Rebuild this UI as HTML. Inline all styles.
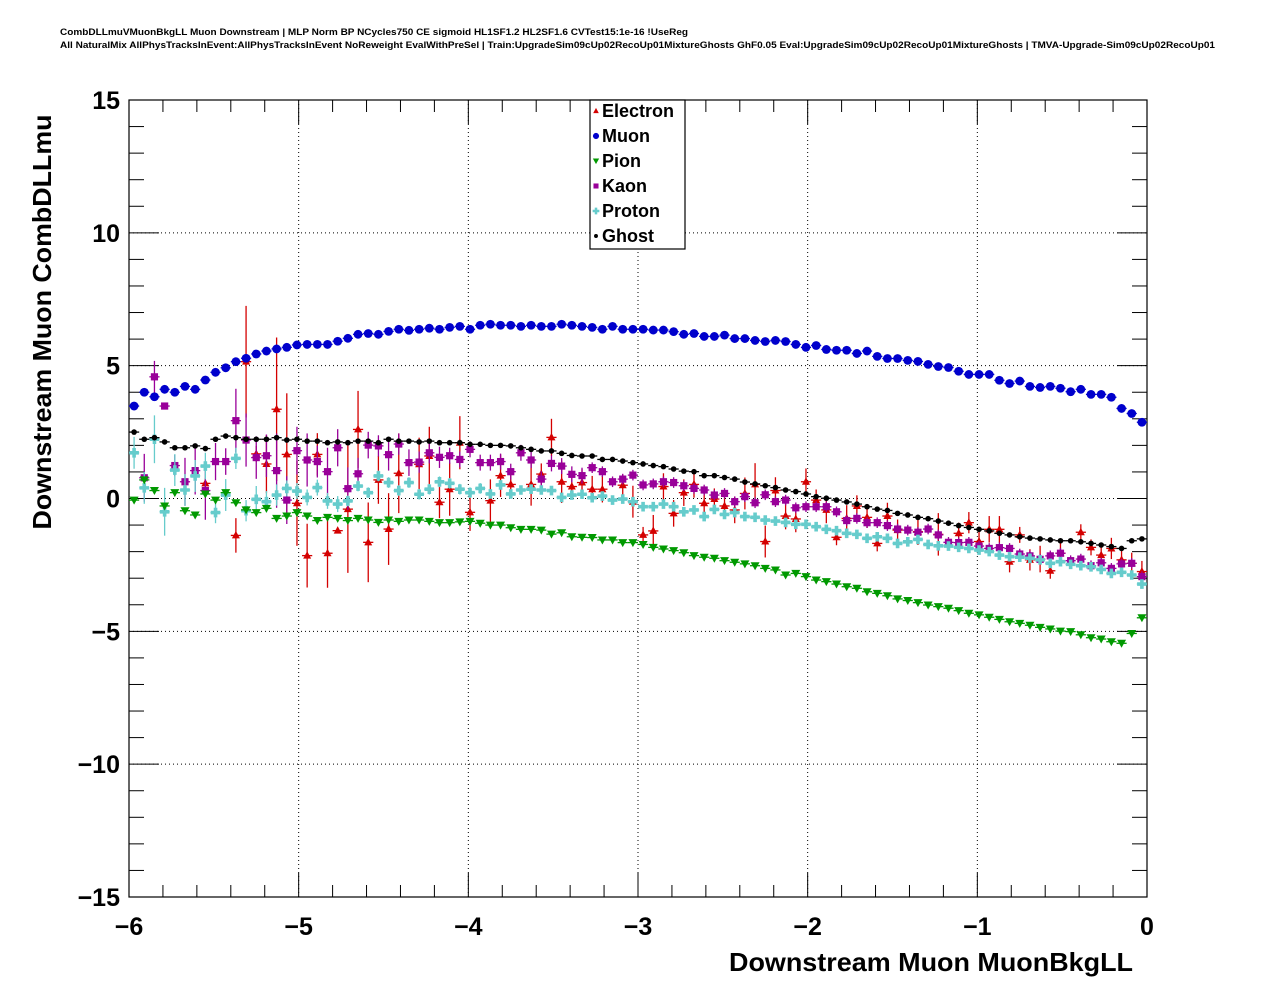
<!DOCTYPE html>
<html><head><meta charset="utf-8"><style>
html,body{margin:0;padding:0;background:#fff;}
svg{display:block;font-family:"Liberation Sans",Arial,sans-serif;}
</style></head><body>
<svg id="chart" width="1276" height="996" viewBox="0 0 1276 996" xmlns="http://www.w3.org/2000/svg">
<rect x="0" y="0" width="1276" height="996" fill="#fff"/>
<text x="60" y="35" font-size="9.5" font-weight="bold" textLength="628" lengthAdjust="spacingAndGlyphs">CombDLLmuVMuonBkgLL Muon Downstream | MLP Norm BP NCycles750 CE sigmoid HL1SF1.2 HL2SF1.6 CVTest15:1e-16 !UseReg</text>
<text x="60" y="48" font-size="9.5" font-weight="bold" textLength="1155" lengthAdjust="spacingAndGlyphs">All NaturalMix AllPhysTracksInEvent:AllPhysTracksInEvent NoReweight EvalWithPreSel | Train:UpgradeSim09cUp02RecoUp01MixtureGhosts GhF0.05 Eval:UpgradeSim09cUp02RecoUp01MixtureGhosts | TMVA-Upgrade-Sim09cUp02RecoUp01</text>
<g id="grid"></g>
<g id="axes"></g>
<g id="marks"></g>
<text transform="translate(51,322) rotate(-90)" text-anchor="middle" font-size="26" font-weight="bold" textLength="415" lengthAdjust="spacingAndGlyphs">Downstream Muon CombDLLmu</text>
<text x="729" y="971" font-size="26" font-weight="bold" textLength="404" lengthAdjust="spacingAndGlyphs">Downstream Muon MuonBkgLL</text>
<g id="legend"></g>
</svg>
<script>
const xMin=-6,xMax=0,yMin=-15,yMax=15,nBins=100;
const xTicks=[-6,-5,-4,-3,-2,-1,0];
const yTicks=[-15,-10,-5,0,5,10,15];
const seriesNames=["Electron","Muon","Pion","Kaon","Proton","Ghost"];
const muon=[3.48,4.0,3.83,4.11,4.0,4.22,4.11,4.46,4.75,4.92,5.15,5.28,5.44,5.55,5.63,5.69,5.78,5.8,5.8,5.8,5.92,6.03,6.18,6.21,6.18,6.29,6.37,6.33,6.37,6.41,6.37,6.44,6.48,6.37,6.52,6.56,6.52,6.52,6.48,6.52,6.48,6.48,6.56,6.52,6.48,6.44,6.37,6.48,6.37,
6.37,6.37,6.34,6.34,6.28,6.18,6.21,6.10,6.10,6.15,6.02,6.02,5.95,5.91,5.95,5.91,5.80,5.69,5.76,5.61,5.58,5.58,5.46,5.55,5.35,5.27,5.27,5.20,5.16,5.05,4.97,4.93,4.79,4.67,4.67,4.67,4.45,4.33,4.42,4.22,4.18,4.22,4.15,4.02,4.11,3.92,3.92,3.81,3.39,3.20,2.87];
const ghost=[2.50,2.23,2.29,2.13,1.91,1.91,1.98,1.88,2.23,2.35,2.29,2.23,2.23,2.23,2.29,2.20,2.23,2.16,2.16,2.10,2.13,2.10,2.16,2.16,2.10,2.23,2.16,2.16,2.13,2.16,2.10,2.10,2.10,2.04,2.04,2.00,2.00,1.98,1.91,1.85,1.79,1.79,1.70,1.62,1.60,1.60,1.47,1.47,1.41,
1.35,1.30,1.24,1.20,1.11,1.03,1.01,0.86,0.86,0.79,0.73,0.62,0.55,0.48,0.41,0.32,0.26,0.17,0.07,0.01,-0.06,-0.13,-0.21,-0.31,-0.40,-0.45,-0.56,-0.62,-0.71,-0.76,-0.85,-0.93,-1.02,-1.09,-1.16,-1.22,-1.31,-1.37,-1.44,-1.49,-1.52,-1.56,-1.59,-1.59,-1.63,-1.69,-1.75,-1.81,-1.88,-1.59,-1.52];
const pion=[-0.06,0.70,0.30,-0.28,0.22,-0.46,-0.62,0.17,-0.06,0.22,-0.16,-0.43,-0.53,-0.37,-0.75,-0.66,-0.53,-0.66,-0.83,-0.71,-0.75,-0.83,-0.75,-0.81,-0.90,-0.81,-0.86,-0.81,-0.81,-0.86,-0.91,-0.91,-0.88,-0.86,-0.93,-1.00,-1.00,-1.10,-1.16,-1.16,-1.19,-1.34,-1.29,-1.44,-1.46,-1.47,-1.56,-1.56,-1.66,
-1.66,-1.73,-1.84,-1.90,-1.96,-2.04,-2.15,-2.21,-2.25,-2.34,-2.40,-2.46,-2.53,-2.63,-2.69,-2.88,-2.82,-2.94,-3.07,-3.13,-3.22,-3.32,-3.38,-3.51,-3.57,-3.66,-3.78,-3.84,-3.92,-4.01,-4.07,-4.13,-4.22,-4.32,-4.38,-4.47,-4.55,-4.64,-4.70,-4.77,-4.85,-4.91,-4.99,-5.01,-5.13,-5.24,-5.29,-5.39,-5.45,-5.08,-4.49];
const kaon=[null,0.78,4.58,3.48,1.24,0.63,1.05,0.30,1.39,1.39,2.93,2.20,1.54,1.61,1.05,-0.06,1.80,1.45,1.39,1.01,1.91,0.37,0.93,2.01,1.98,1.65,2.05,1.35,1.37,1.72,1.55,1.61,1.47,1.85,1.35,1.35,1.39,1.01,1.72,1.45,0.73,1.32,1.22,0.91,0.86,1.16,1.01,0.63,0.73,
0.88,0.51,0.55,0.63,0.60,0.48,0.38,0.32,0.13,0.19,-0.12,0.07,-0.16,0.14,-0.12,-0.06,-0.35,-0.31,-0.31,-0.31,-0.50,-0.83,-0.75,-0.91,-0.91,-1.02,-1.15,-1.19,-1.27,-1.15,-1.37,-1.65,-1.66,-1.65,-1.79,-1.88,-1.85,-1.88,-2.09,-2.16,-2.29,-2.16,-2.06,-2.34,-2.28,-2.53,-2.42,-2.63,-2.46,-2.44,-2.94];
const kaonErr=[0,0.9,0.6,0.1,0.4,0.9,0.9,1.1,0.7,0.5,1.2,1.0,0.8,0.8,1.4,0.9,0.9,1.0,0.6,0.9,0.7,0.8,0.6,0.5,0.4,0.6,0.4,0.5,0.4,0.4,0.4,0.3,0.3,0.3,0.3,0.3,0.3,0.3,0.3,0.3,0.3,0.3,0.3,0.3,0.3,0.2,0.2,0.2,0.2,0.2,0.2,0.2,0.2,0.2,0.2,0.2,0.2,0.2,0.2,0.2,0.2,0.2,0.2,0.2,0.2,0.2,0.2,0.2,0.2,0.2,0.2,0.2,0.2,0.2,0.2,0.2,0.2,0.2,0.2,0.2,0.2,0.2,0.2,0.2,0.2,0.2,0.2,0.2,0.2,0.2,0.2,0.2,0.2,0.2,0.2,0.2,0.2,0.2,0.2,0.2];
const proton=[1.72,0.40,2.23,-0.50,1.07,0.32,0.85,1.22,-0.53,0.13,1.51,-0.46,-0.03,-0.12,0.13,0.38,0.28,0.04,0.41,-0.09,-0.21,-0.09,0.47,0.22,0.85,0.60,0.30,0.60,0.16,0.35,0.63,0.57,0.35,0.22,0.38,0.17,0.51,0.17,0.32,0.35,0.32,0.30,0.04,0.13,0.16,0.03,0.09,-0.06,-0.02,
-0.12,-0.31,-0.31,-0.21,-0.31,-0.50,-0.43,-0.68,-0.41,-0.60,-0.53,-0.68,-0.71,-0.81,-0.85,-0.90,-0.97,-0.97,-1.06,-1.16,-1.21,-1.31,-1.35,-1.50,-1.44,-1.50,-1.69,-1.63,-1.54,-1.73,-1.78,-1.79,-1.84,-1.88,-1.94,-2.00,-2.13,-2.19,-2.21,-2.25,-2.31,-2.44,-2.38,-2.48,-2.53,-2.57,-2.67,-2.82,-2.78,-2.88,-3.22];
const protonErr=[0.6,0.6,0.9,0.9,0.6,0.6,0.6,0.5,0.4,0.6,0.4,0.4,0.5,0.4,0.4,0.3,0.3,0.3,0.3,0.3,0.3,0.2,0.2,0.2,0.2,0.2,0.2,0.2,0.2,0.2,0.2,0.2,0.2,0.2,0.2,0.1,0.1,0.1,0.1,0.1,0.1,0.1,0.1,0.1,0.1,0.1,0.1,0.1,0.1,0.1,0.1,0.1,0.1,0.1,0.1,0.1,0.1,0.1,0.1,0.1,0.1,0.1,0.1,0.1,0.1,0.1,0.1,0.1,0.1,0.1,0.1,0.1,0.1,0.1,0.1,0.1,0.1,0.1,0.1,0.1,0.1,0.1,0.1,0.1,0.1,0.1,0.1,0.1,0.1,0.1,0.1,0.1,0.1,0.1,0.1,0.1,0.1,0.1,0.1,0.1];
const electron=[null,null,null,null,null,null,null,0.57,null,null,-1.39,5.15,1.68,1.30,3.36,1.66,-0.18,-2.15,1.66,-2.06,-1.21,-0.40,2.60,-1.65,0.70,-1.15,0.95,null,1.29,1.60,-0.14,0.35,2.10,-0.52,null,-0.08,0.86,0.53,null,0.53,0.92,2.30,0.63,0.45,0.60,0.35,0.35,null,0.5,
-0.12,-1.37,-1.22,0.45,-0.56,0.22,0.53,-0.18,-0.02,-0.28,-0.43,0.19,0.53,-1.62,0.30,-0.66,-0.77,0.63,-0.06,-0.43,-1.46,-0.75,-0.28,-0.71,-1.69,-0.66,-1.19,null,-1.25,null,-1.35,null,-1.31,-0.91,-1.62,-1.16,-1.16,-2.38,-1.37,-2.31,-2.28,-2.72,-2.06,null,-1.27,-1.84,-2.13,-1.88,-2.31,-2.44,-2.75];
const electronErr=[0,0,0,0,0,0,0,0.2,0,0,0.65,2.1,0.3,1.1,2.7,2.3,1.6,1.2,0.8,1.3,0.1,2.4,1.45,1.5,0.9,1.35,1.5,0,1.0,1.1,0.6,1.0,1.0,0.7,0,0.8,0.8,0.4,0,0.8,0.4,0.7,0.8,0.4,0.5,0.5,0.5,0,0.4,
0.6,0.3,0.6,0.5,0.5,0.5,0.5,0.5,0.4,0.4,0.5,0.6,0.8,0.6,0.5,0.5,0.5,0.5,0.4,0.5,0.3,0.5,0.4,0.4,0.3,0.5,0.4,0,0.5,0,0.8,0,0.4,0.4,0.4,0.5,0.5,0.4,0.3,0.4,0.5,0.3,0.4,0,0.3,0.3,0.3,0.4,0.4,0.4,0.4];

const NS="http://www.w3.org/2000/svg";
const L=129,R=1147,T=100,B=897;
const sx=v=>L+(v-xMin)/(xMax-xMin)*(R-L);
const sy=v=>B-(v-yMin)/(yMax-yMin)*(B-T);
function mk(tag,attrs,parent){const e=document.createElementNS(NS,tag);for(const k in attrs)e.setAttribute(k,attrs[k]);parent.appendChild(e);return e;}
const grid=document.getElementById('grid'),axes=document.getElementById('axes'),marks=document.getElementById('marks'),legend=document.getElementById('legend');

xTicks.forEach(t=>{if(t>xMin&&t<xMax){const g=mk('line',{x1:sx(t),x2:sx(t),y1:T,y2:B,stroke:'#000','stroke-width':1,'stroke-dasharray':'1,3'},grid);

}});
yTicks.forEach(t=>{if(t>yMin&&t<yMax){const g=mk('line',{x1:L,x2:R,y1:sy(t),y2:sy(t),stroke:'#000','stroke-width':1,'stroke-dasharray':'1,3'},grid);

}});

const frame=mk('rect',{x:L,y:T,width:R-L,height:B-T,fill:'none',stroke:'#000','stroke-width':1.2},axes);


for(let i=0;i<=30;i++){const v=xMin+i*0.2;const major=(i%5===0);const len=major?24:12;const x=sx(v);
mk('line',{x1:x,x2:x,y1:B,y2:B-len,stroke:'#000'},axes);mk('line',{x1:x,x2:x,y1:T,y2:T+len,stroke:'#000'},axes);}
for(let i=0;i<=30;i++){const v=yMin+i;const major=(i%5===0);const len=major?30:15;const y=sy(v);
mk('line',{x1:L,x2:L+len,y1:y,y2:y,stroke:'#000'},axes);mk('line',{x1:R,x2:R-len,y1:y,y2:y,stroke:'#000'},axes);}
xTicks.forEach(t=>{const tx=mk('text',{x:sx(t),y:935,'text-anchor':'middle','font-size':25,'font-weight':'bold'},axes);tx.textContent=(t<0?'\u2212'+(-t):String(t));

});
yTicks.forEach(t=>{const tx=mk('text',{x:120,y:sy(t)+9,'text-anchor':'end','font-size':25,'font-weight':'bold'},axes);tx.textContent=(t<0?'\u2212'+(-t):String(t));

});

function marker(kind,x,y,color,parent,s){
 s=s||1;
 if(kind==='tri')return mk('polygon',{points:`${x},${y-4.5*s} ${x-4*s},${y+3*s} ${x+4*s},${y+3*s}`,fill:color},parent);
 if(kind==='circ')return mk('circle',{cx:x,cy:y,r:4.4*s,fill:color},parent);
 if(kind==='tdown')return mk('polygon',{points:`${x-4.5*s},${y-3.5*s} ${x+4.5*s},${y-3.5*s} ${x},${y+4.5*s}`,fill:color},parent);
 if(kind==='sq')return mk('rect',{x:x-3.6*s,y:y-3.6*s,width:7.2*s,height:7.2*s,fill:color},parent);
 if(kind==='plus')return mk('path',{d:`M${x-4.8*s},${y-1.8*s}h${3*s}v${-3*s}h${3.6*s}v${3*s}h${3*s}v${3.6*s}h${-3*s}v${3*s}h${-3.6*s}v${-3*s}h${-3*s}z`,fill:color},parent);
 if(kind==='dot')return mk('circle',{cx:x,cy:y,r:2.8*s,fill:color},parent);
}
const seriesDefs=[
 {name:'electron',vals:electron,err:electronErr,color:'#d40000',kind:'tri'},
 {name:'kaon',vals:kaon,err:kaonErr,color:'#990099',kind:'sq'},
 {name:'proton',vals:proton,err:protonErr,color:'#66cccc',kind:'plus'},
 {name:'pion',vals:pion,err:null,color:'#009900',kind:'tdown'},
 {name:'ghost',vals:ghost,err:null,color:'#000000',kind:'dot'},
 {name:'muon',vals:muon,err:null,color:'#0000cc',kind:'circ'}
];
const bw=(xMax-xMin)/nBins;
seriesDefs.forEach(sd=>{
 const g=mk('g',{},marks);
 
 
 sd.vals.forEach((v,i)=>{
  if(v===null||v===undefined)return;
  const xc=xMin+(i+0.5)*bw;const x=sx(xc),y=sy(v);
  mk('line',{x1:sx(xc-bw/2),x2:sx(xc+bw/2),y1:y,y2:y,stroke:sd.color,'stroke-width':1.3},g);
  if(sd.err&&sd.err[i]>0){mk('line',{x1:x,x2:x,y1:sy(v+sd.err[i]),y2:sy(v-sd.err[i]),stroke:sd.color,'stroke-width':1.3},g);}
  const m=marker(sd.kind,x,y,sd.color,g);
  
  
 });
});

const lb=mk('rect',{x:590,y:100,width:95,height:149,fill:'#fff',stroke:'#000','stroke-width':1.2},legend);


const legKinds=['tri','circ','tdown','sq','plus','dot'];
const legColors=['#d40000','#0000cc','#009900','#990099','#66cccc','#000000'];
seriesNames.forEach((n,i)=>{
 const y=111+i*25;
 const m=marker(legKinds[i],596,y,legColors[i],legend,0.7);
 
 
 const t=mk('text',{x:602,y:y+6,'font-size':18,'font-weight':'bold'},legend);
 t.textContent=n;
 
 
});
</script>
</body></html>
